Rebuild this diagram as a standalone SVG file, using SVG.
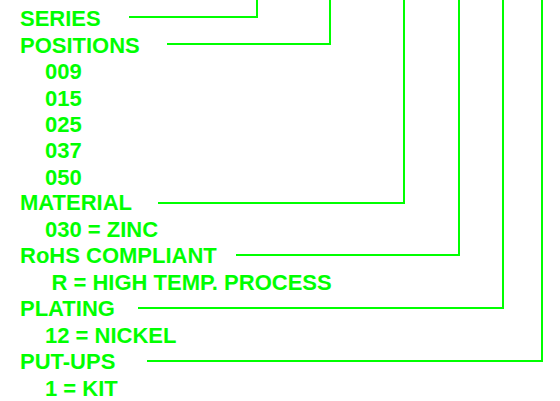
<svg xmlns="http://www.w3.org/2000/svg" width="560" height="401" viewBox="0 0 560 401">
<style>
text{font-family:"Liberation Sans",Arial,sans-serif;font-weight:bold;font-size:22px;fill:#00FF00}
.c{fill:none;stroke:#00FF00;stroke-width:2}
</style>
<rect width="560" height="401" fill="#FFFFFF"/>
<g id="connectors">
<polyline class="c" points="129,17 257,17 257,0"/>
<polyline class="c" points="167,44 330,44 330,0"/>
<polyline class="c" points="158,203 404,203 404,0"/>
<polyline class="c" points="236,255 459,255 459,0"/>
<polyline class="c" points="138,308 503,308 503,0"/>
<polyline class="c" points="147,361 542,361 542,0"/>
</g>
<g id="series"><text x="20" y="26">SERIES</text></g>
<g id="positions"><text x="20" y="52.5">POSITIONS</text>
<text x="45" y="79">009</text>
<text x="45" y="105.5">015</text>
<text x="45" y="132">025</text>
<text x="45" y="158">037</text>
<text x="45" y="184.5">050</text></g>
<g id="material"><text x="20" y="210">MATERIAL</text>
<text x="45" y="236.5">030 = ZINC</text></g>
<g id="rohs"><text x="20" y="263">RoHS COMPLIANT</text>
<text x="51.5" y="289.5">R = HIGH TEMP. PROCESS</text></g>
<g id="plating"><text x="20" y="316">PLATING</text>
<text x="45" y="342.5">12 = NICKEL</text></g>
<g id="putups"><text x="20" y="369">PUT-UPS</text>
<text x="45" y="395.5">1 = KIT</text></g>
</svg>
